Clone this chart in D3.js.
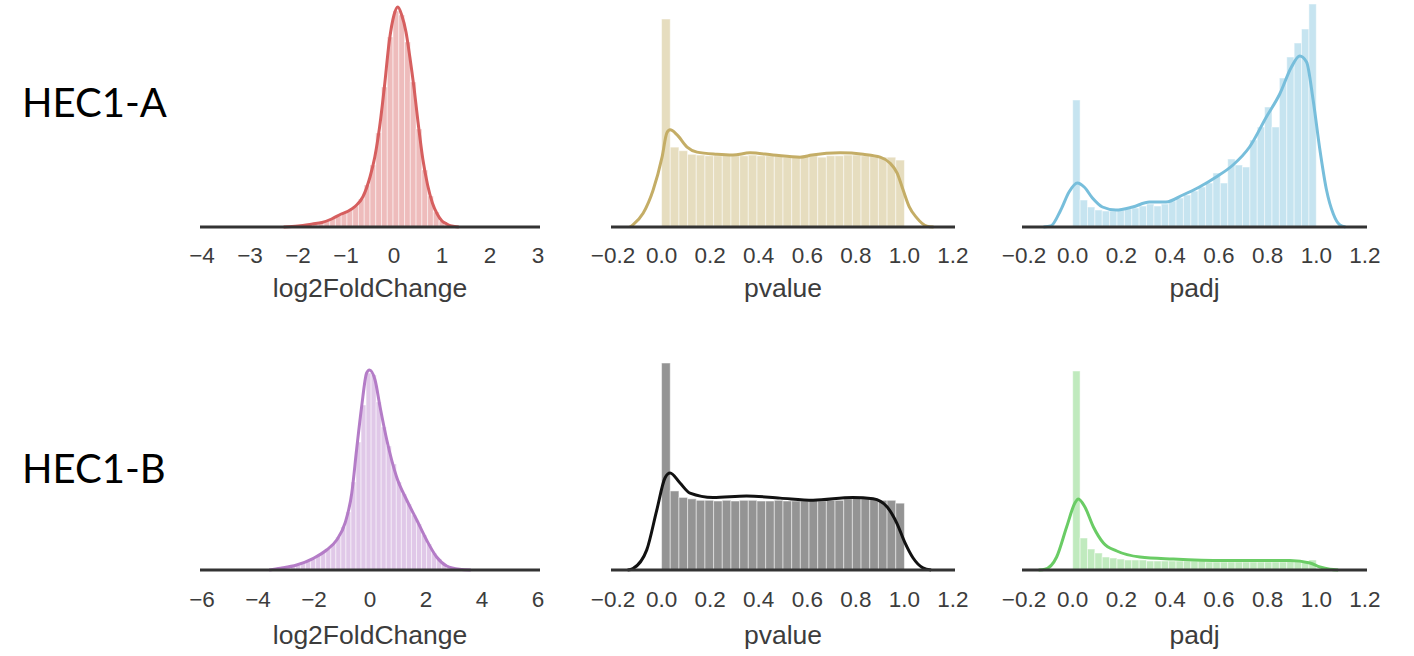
<!DOCTYPE html>
<html>
<head>
<meta charset="utf-8">
<script src="https://cdn.jsdelivr.net/npm/d3@7.9.0/dist/d3.min.js"></script>
<style>
  body { margin: 0; background: #fff; }
  svg { display: block; }
</style>
</head>
<body>
<svg id="chart" width="1414" height="656"></svg>
<script>
// Row and axis labels
const rowLabels = ["HEC1-A", "HEC1-B"];
const xLabels = ["log2FoldChange", "pvalue", "padj"];

// Tick values
const ticksFcA = [-4, -3, -2, -1, 0, 1, 2, 3];
const ticksFcB = [-6, -4, -2, 0, 2, 4, 6];
const ticksP = [-0.2, 0, 0.2, 0.4, 0.6, 0.8, 1.0, 1.2];

// HEC1-A log2FoldChange: 50 bins from -3.5, width 0.12
const fcABinStart = -3.5, fcABinWidth = 0.12;
const fcAHist = [0, 0, 0, 0, 0, 0, 0, 0, 0.002, 0.003,
  0.005, 0.007, 0.01, 0.018, 0.026, 0.033, 0.044, 0.06, 0.085, 0.115,
  0.14, 0.17, 0.21, 0.28, 0.42, 0.62, 0.94, 1.40, 1.90, 2.16,
  2.12, 1.85, 1.45, 0.98, 0.57, 0.31, 0.15, 0.06, 0.026, 0.01,
  0.003, 0.002, 0.001, 0, 0, 0, 0, 0, 0, 0];
const fcAKdeX = [-2.3, -2.0, -1.7, -1.5, -1.3, -1.1, -0.95, -0.8, -0.65, -0.5, -0.4, -0.3, -0.2, -0.1, 0.0, 0.08, 0.16, 0.25, 0.33, 0.42, 0.5, 0.6, 0.7, 0.8, 0.9, 1.0, 1.1, 1.2, 1.35];
const fcAKdeY = [0, 0.01, 0.03, 0.045, 0.08, 0.13, 0.16, 0.21, 0.30, 0.50, 0.70, 1.00, 1.40, 1.85, 2.12, 2.20, 2.12, 1.95, 1.70, 1.38, 1.05, 0.68, 0.42, 0.24, 0.13, 0.06, 0.03, 0.01, 0];

// HEC1-A pvalue: 28 bins over [0, 1]
const pABinStart = 0, pABinWidth = 1 / 28;
const pAHist = [2.89, 1.11, 1.06, 1.01, 1.00, 0.99, 0.99, 1.00, 0.99, 0.99,
  1.00, 0.99, 0.99, 0.99, 0.97, 0.99, 0.99, 0.99, 0.97, 0.99,
  0.99, 1.00, 1.00, 0.99, 0.99, 0.97, 0.97, 0.93];
const pAKdeX = [-0.13, -0.118, -0.076, -0.035, 0.002, 0.022, 0.035, 0.064, 0.105, 0.146, 0.228, 0.294, 0.364, 0.459, 0.57, 0.62, 0.735, 0.83, 0.9, 0.94, 0.97, 0.995, 1.02, 1.05, 1.093, 1.12];
const pAKdeY = [0, 0.03, 0.19, 0.51, 0.97, 1.31, 1.35, 1.28, 1.11, 1.04, 1.01, 1.00, 1.03, 1.00, 0.97, 1.00, 1.03, 1.01, 0.97, 0.89, 0.75, 0.51, 0.28, 0.13, 0.01, 0];

// HEC1-A padj: 33 bins over [0, 1]
const padjABinStart = 0, padjABinWidth = 1 / 33;
const padjAHist = [1.27, 0.27, 0.20, 0.17, 0.16, 0.16, 0.17, 0.18, 0.19, 0.21,
  0.23, 0.21, 0.23, 0.26, 0.29, 0.32, 0.36, 0.40, 0.44, 0.54,
  0.44, 0.68, 0.62, 0.60, 0.87, 1.00, 1.20, 1.00, 1.49, 1.70,
  1.84, 1.98, 2.23];
const padjAKdeX = [-0.12, -0.09, -0.049, -0.015, 0.019, 0.047, 0.081, 0.122, 0.177, 0.246, 0.315, 0.383, 0.452, 0.52, 0.589, 0.658, 0.726, 0.795, 0.85, 0.898, 0.932, 0.96, 0.987, 1.015, 1.042, 1.07, 1.097, 1.12];
const padjAKdeY = [0, 0.01, 0.17, 0.35, 0.44, 0.40, 0.29, 0.20, 0.17, 0.20, 0.25, 0.25, 0.32, 0.40, 0.50, 0.62, 0.80, 1.10, 1.33, 1.60, 1.71, 1.65, 1.27, 0.77, 0.37, 0.13, 0.02, 0];

// HEC1-B log2FoldChange: 50 bins from -5, width 0.18
const fcBBinStart = -5, fcBBinWidth = 0.18;
const fcBHist = [0, 0, 0, 0, 0, 0, 0, 0, 0.005, 0.01,
  0.015, 0.025, 0.035, 0.05, 0.07, 0.09, 0.12, 0.14, 0.17, 0.21,
  0.26, 0.33, 0.43, 0.58, 0.88, 1.28, 1.65, 1.97, 1.95, 1.68,
  1.43, 1.24, 1.06, 0.88, 0.76, 0.66, 0.55, 0.46, 0.35, 0.26,
  0.17, 0.11, 0.06, 0.03, 0.015, 0.01, 0.005, 0.003, 0.002, 0.001];
const fcBKdeX = [-3.6, -3.2, -2.62, -2.02, -1.55, -1.19, -0.89, -0.65, -0.48, -0.3, -0.12, -0.02, 0.18, 0.36, 0.6, 0.95, 1.31, 1.67, 2.02, 2.38, 2.74, 3.2, 3.6];
const fcBKdeY = [0, 0.017, 0.05, 0.117, 0.20, 0.30, 0.47, 0.77, 1.20, 1.63, 1.97, 2.00, 1.90, 1.63, 1.30, 0.93, 0.70, 0.50, 0.30, 0.13, 0.04, 0.007, 0];

// HEC1-B pvalue: 28 bins over [0, 1]
const pBBinStart = 0, pBBinWidth = 1 / 28;
const pBHist = [2.88, 1.10, 1.01, 0.99, 0.97, 0.97, 0.96, 0.97, 0.96, 0.97,
  0.97, 0.96, 0.96, 0.97, 0.96, 0.96, 0.96, 0.97, 0.96, 0.97,
  0.97, 0.99, 1.00, 1.00, 0.99, 0.97, 0.97, 0.93];
const pBKdeX = [-0.14, -0.118, -0.061, -0.02, 0.014, 0.035, 0.076, 0.117, 0.212, 0.35, 0.488, 0.624, 0.788, 0.871, 0.928, 0.969, 1.002, 1.035, 1.076, 1.11];
const pBKdeY = [0, 0.02, 0.28, 0.83, 1.28, 1.35, 1.21, 1.07, 1.01, 1.03, 1.00, 0.97, 1.01, 0.99, 0.88, 0.65, 0.38, 0.17, 0.03, 0];

// HEC1-B padj: 33 bins over [0, 1]
const padjBBinStart = 0, padjBBinWidth = 1 / 33;
const padjBHist = [1.99, 0.32, 0.21, 0.17, 0.13, 0.12, 0.11, 0.10, 0.10, 0.10,
  0.09, 0.09, 0.09, 0.09, 0.09, 0.09, 0.09, 0.09, 0.08, 0.08,
  0.08, 0.08, 0.08, 0.08, 0.08, 0.08, 0.08, 0.08, 0.08, 0.09,
  0.09, 0.09, 0.10];
const padjBKdeX = [-0.14, -0.114, -0.066, -0.025, 0.009, 0.023, 0.05, 0.085, 0.126, 0.181, 0.276, 0.413, 0.618, 0.892, 0.974, 1.015, 1.056, 1.09];
const padjBKdeY = [0, 0.007, 0.13, 0.43, 0.67, 0.71, 0.63, 0.43, 0.27, 0.19, 0.13, 0.11, 0.095, 0.095, 0.07, 0.03, 0.007, 0];

// muted seaborn-ish colours
const colors = {
  red: "#d65f5f", yellow: "#c4ad66", cyan: "#77bedb",
  purple: "#b47cc7", black: "#000000", green: "#6acc65"
};

// layout: columns (tick positions -> px) and rows (axis baseline, label baselines)
const cols = [
  { x0: 202, x1: 538 },
  { x0: 613, x1: 953 },
  { x0: 1024, x1: 1365 }
];
const rows = [
  { axisY: 227, labelY: 117, tickY: 263, titleY: 297 },
  { axisY: 570, labelY: 483, tickY: 607, titleY: 644 }
];

const panels = [
  { row: 0, col: 0, ticks: ticksFcA, fmt: d3.format("d"), start: fcABinStart, width: fcABinWidth, hist: fcAHist, kx: fcAKdeX, ky: fcAKdeY, color: colors.red, line: colors.red, topY: 7 },
  { row: 0, col: 1, ticks: ticksP, fmt: d3.format(".1f"), start: pABinStart, width: pABinWidth, hist: pAHist, kx: pAKdeX, ky: pAKdeY, color: colors.yellow, line: colors.yellow, topY: 19 },
  { row: 0, col: 2, ticks: ticksP, fmt: d3.format(".1f"), start: padjABinStart, width: padjABinWidth, hist: padjAHist, kx: padjAKdeX, ky: padjAKdeY, color: colors.cyan, line: colors.cyan, topY: 4 },
  { row: 1, col: 0, ticks: ticksFcB, fmt: d3.format("d"), start: fcBBinStart, width: fcBBinWidth, hist: fcBHist, kx: fcBKdeX, ky: fcBKdeY, color: colors.purple, line: colors.purple, topY: 370 },
  { row: 1, col: 1, ticks: ticksP, fmt: d3.format(".1f"), start: pBBinStart, width: pBBinWidth, hist: pBHist, kx: pBKdeX, ky: pBKdeY, color: colors.black, line: "#111", topY: 363 },
  { row: 1, col: 2, ticks: ticksP, fmt: d3.format(".1f"), start: padjBBinStart, width: padjBBinWidth, hist: padjBHist, kx: padjBKdeX, ky: padjBKdeY, color: colors.green, line: colors.green, topY: 371 }
];

const svg = d3.select("#chart");
svg.append("rect").attr("width", 1414).attr("height", 656).attr("fill", "#fff");

// Row labels
svg.selectAll("text.row-label")
  .data(rowLabels)
  .enter()
  .append("text")
  .attr("class", "row-label")
  .attr("x", 22)
  .attr("y", (_, i) => rows[i].labelY)
  .attr("font-family", "Lato, 'Open Sans', sans-serif")
  .attr("font-size", 40)
  .attr("fill", "#000")
  .text((d) => d);

panels.forEach((p) => {
  const c = cols[p.col];
  const r = rows[p.row];
  const x = d3.scaleLinear()
    .domain([p.ticks[0], p.ticks[p.ticks.length - 1]])
    .range([c.x0, c.x1]);
  const yMax = d3.max([d3.max(p.hist), d3.max(p.ky)]);
  const y = d3.scaleLinear().domain([0, yMax]).range([r.axisY, p.topY]);

  const g = svg.append("g");

  // histogram bars
  g.selectAll("rect.bar")
    .data(p.hist)
    .enter()
    .append("rect")
    .attr("class", "bar")
    .attr("x", (_, i) => x(p.start + i * p.width))
    .attr("width", (_, i) => x(p.start + (i + 1) * p.width) - x(p.start + i * p.width))
    .attr("y", (d) => y(d))
    .attr("height", (d) => r.axisY - y(d))
    .attr("fill", p.color)
    .attr("fill-opacity", 0.42)
    .attr("stroke", "#fff")
    .attr("stroke-opacity", 0.5)
    .attr("stroke-width", 1);

  // kde line
  const kde = p.kx.map((v, i) => [v, p.ky[i]]);
  g.append("path")
    .datum(kde)
    .attr("fill", "none")
    .attr("stroke", p.line)
    .attr("stroke-width", 3)
    .attr("stroke-linejoin", "round")
    .attr("d", d3.line().x((d) => x(d[0])).y((d) => y(d[1])).curve(d3.curveMonotoneX));

  // bottom spine
  g.append("line")
    .attr("x1", c.x0 - 2)
    .attr("x2", c.x1 + 2)
    .attr("y1", r.axisY)
    .attr("y2", r.axisY)
    .attr("stroke", "#333")
    .attr("stroke-width", 3);

  // tick labels
  g.selectAll("text.tick")
    .data(p.ticks)
    .enter()
    .append("text")
    .attr("class", "tick")
    .attr("x", (d) => x(d))
    .attr("y", r.tickY)
    .attr("text-anchor", "middle")
    .attr("font-family", "'Liberation Sans', Arial, sans-serif")
    .attr("font-size", 22.5)
    .attr("fill", "#3c3c3c")
    .text((d) => p.fmt(d));

  // axis label
  g.append("text")
    .attr("x", (c.x0 + c.x1) / 2)
    .attr("y", r.titleY)
    .attr("text-anchor", "middle")
    .attr("font-family", "'Liberation Sans', Arial, sans-serif")
    .attr("font-size", 26.5)
    .attr("fill", "#3c3c3c")
    .text(xLabels[p.col]);
});
</script>
</body>
</html>
